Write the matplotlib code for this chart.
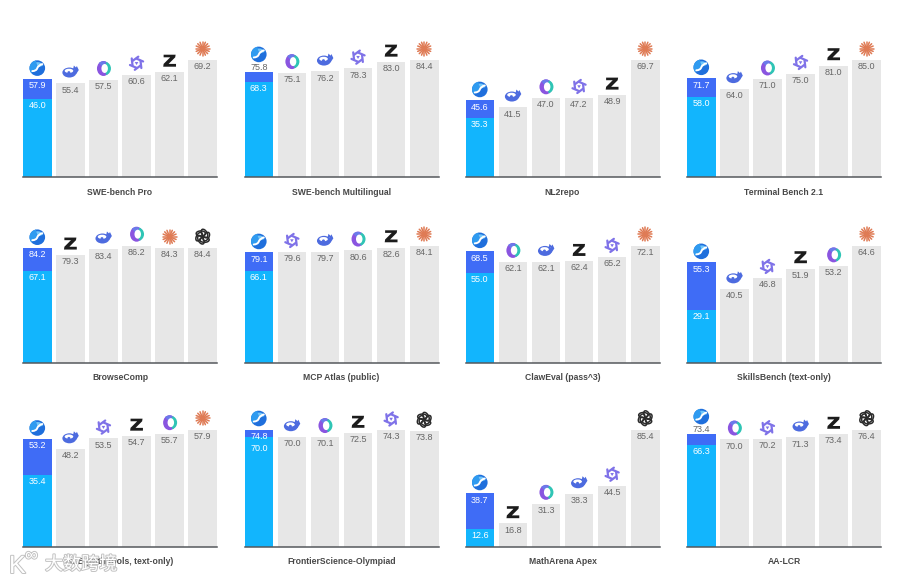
import numpy as np
import matplotlib
matplotlib.use('Agg')
import matplotlib.pyplot as plt
import matplotlib.patheffects as pe
from matplotlib.patches import Circle, Ellipse, Wedge, Polygon, PathPatch
from matplotlib.path import Path
from matplotlib.transforms import Affine2D, ScaledTranslation

plt.rcParams['font.family'] = ['Liberation Sans', 'Noto Sans CJK SC', 'DejaVu Sans']

# Benchmark panels, left to right and top to bottom
titles = ['SWE-bench Pro', 'SWE-bench Multilingual', 'NL2repo', 'Terminal Bench 2.1',
          'BrowseComp', 'MCP Atlas (public)', 'ClawEval (pass^3)', 'SkillsBench (text-only)',
          'HLE (with tools, text-only)', 'FrontierScience-Olympiad', 'MathArena Apex', 'AA-LCR']

# Lead model: full score and the lower score inside the same bar
lead_high = [57.9, 75.8, 45.6, 71.7, 84.2, 79.1, 68.5, 55.3, 53.2, 74.8, 38.7, 73.4]
lead_low = [46.0, 68.3, 35.3, 58.0, 67.1, 66.1, 55.0, 29.1, 35.4, 70.0, 12.6, 66.3]

# Competitors, each panel in its own order
rivals = [
    ['whale', 'ring', 'knot', 'z', 'spark'],
    ['ring', 'whale', 'knot', 'z', 'spark'],
    ['whale', 'ring', 'knot', 'z', 'spark'],
    ['whale', 'ring', 'knot', 'z', 'spark'],
    ['z', 'whale', 'ring', 'spark', 'gpt'],
    ['knot', 'whale', 'ring', 'z', 'spark'],
    ['ring', 'whale', 'z', 'knot', 'spark'],
    ['whale', 'knot', 'z', 'ring', 'spark'],
    ['whale', 'knot', 'z', 'ring', 'spark'],
    ['whale', 'ring', 'z', 'knot', 'gpt'],
    ['z', 'ring', 'whale', 'knot', 'gpt'],
    ['ring', 'knot', 'whale', 'z', 'gpt'],
]
rival_scores = [
    [55.4, 57.5, 60.6, 62.1, 69.2],
    [75.1, 76.2, 78.3, 83.0, 84.4],
    [41.5, 47.0, 47.2, 48.9, 69.7],
    [64.0, 71.0, 75.0, 81.0, 85.0],
    [79.3, 83.4, 86.2, 84.3, 84.4],
    [79.6, 79.7, 80.6, 82.6, 84.1],
    [62.1, 62.1, 62.4, 65.2, 72.1],
    [40.5, 46.8, 51.9, 53.2, 64.6],
    [48.2, 53.5, 54.7, 55.7, 57.9],
    [70.0, 70.1, 72.5, 74.3, 73.8],
    [16.8, 31.3, 38.3, 44.5, 85.4],
    [70.0, 70.2, 71.3, 73.4, 76.4],
]
# These two panels print the lead score above the bar instead of inside it
label_above = ['SWE-bench Multilingual', 'AA-LCR']

FIG_W, FIG_H = 900, 583
col_left = [23, 244.5, 465.5, 687]
row_base = [177, 362.5, 546.5]
panel_w = 194
tallest = 117  # pixel height of the highest bar in every panel

CYAN = '#12b5fd'
BLUE = '#3f6cf6'
GREY = '#e7e7e7'


def px_transform(ax, x, y):
    # local pixel units, origin sitting on a bar top
    return Affine2D() + ScaledTranslation(x, y, ax.transData)


def icon_sphere(ax, tr, cy):
    ax.add_patch(Circle((0, cy), 7.8, fc='#1f6fdc', ec='none', transform=tr, clip_on=False))
    ax.add_patch(Wedge((0, cy), 7.8, 100, 220, fc='#2f9bf0', ec='none', transform=tr, clip_on=False))
    ax.add_patch(Wedge((0.6, cy + 0.6), 5.4, 20, 110, fc='#6fc6fa', ec='none', transform=tr, clip_on=False))
    verts = [(-5, cy - 3), (-1, cy - 3), (0, cy), (1, cy + 3), (5, cy + 4)]
    codes = [Path.MOVETO, Path.CURVE3, Path.CURVE3, Path.CURVE3, Path.CURVE3]
    ax.add_patch(PathPatch(Path(verts, codes), fc='none', ec='white', lw=1.4, transform=tr,
                           clip_on=False, capstyle='round'))


def icon_whale(ax, tr, cy):
    color = '#4d6bdf'
    ax.add_patch(Ellipse((-1, cy - 0.5), 14, 10, fc=color, ec='none', transform=tr, clip_on=False))
    ax.add_patch(Ellipse((-1.4, cy + 1.2), 8.6, 4.2, fc='white', ec='none', transform=tr, clip_on=False))
    ax.add_patch(Ellipse((-1.5, cy - 0.6), 3.0, 3.0, fc=color, ec='none', transform=tr, clip_on=False))
    ax.add_patch(Polygon([(3, cy + 0.5), (6.5, cy + 6), (8.4, cy + 2), (5.5, cy - 2.5)], fc=color, ec='none',
                         transform=tr, clip_on=False))
    ax.add_patch(Polygon([(2.5, cy + 2), (3.5, cy + 6.5), (6.6, cy + 3.5)], fc=color, ec='none',
                         transform=tr, clip_on=False))


def icon_ring(ax, tr, cy):
    ax.add_patch(Ellipse((0, cy), 13, 15, fc='#8a55e0', ec='none', transform=tr, clip_on=False))
    ax.add_patch(Wedge((0.5, cy), 7, -70, 70, fc='#2fc5b5', ec='none', transform=tr, clip_on=False))
    ax.add_patch(Wedge((0, cy), 7.2, 70, 130, fc='#6a7bea', ec='none', transform=tr, clip_on=False))
    ax.add_patch(Ellipse((1.2, cy), 6.5, 9, fc='white', ec='none', transform=tr, clip_on=False))


def icon_knot(ax, tr, cy):
    color = '#7f72e8'
    for ang in np.arange(15, 375, 60):
        rad = np.deg2rad(ang)
        ax.plot([6.8 * np.cos(rad), 4.6 * np.cos(rad + 1.3)],
                [cy + 6.8 * np.sin(rad), cy + 4.6 * np.sin(rad + 1.3)],
                color=color, lw=1.6, transform=tr, clip_on=False, solid_capstyle='round')
    ax.add_patch(Polygon([(-1.8, cy + 1.2), (1.8, cy + 1.2), (0, cy - 1.8)], fc=color, ec='none',
                         transform=tr, clip_on=False))


def icon_z(ax, tr, cy):
    outline = [(-6, cy + 6), (6, cy + 6), (5.6, cy + 3.4), (-1, cy - 3.2), (6.4, cy - 3.2), (6.4, cy - 6),
               (-6.4, cy - 6), (-6, cy - 3.2), (0.6, cy + 3.4), (-6, cy + 3.4)]
    ax.add_patch(Polygon(outline, fc='#1c1c1c', ec='none', transform=tr, clip_on=False))


def icon_spark(ax, tr, cy):
    for ang in np.arange(0, 180, 22.5):
        rad = np.deg2rad(ang)
        dx, dy = 7.0 * np.cos(rad), 7.0 * np.sin(rad)
        ax.plot([-dx, dx], [cy - dy, cy + dy], color='#df7b55', lw=1.1, transform=tr, clip_on=False,
                solid_capstyle='round')
    ax.add_patch(Circle((0, cy), 2.6, fc='#df7b55', ec='none', transform=tr, clip_on=False))


def icon_gpt(ax, tr, cy):
    for ang in np.arange(0, 360, 60):
        rad = np.deg2rad(ang)
        ax.add_patch(Ellipse((3.6 * np.cos(rad), cy + 3.6 * np.sin(rad)), 9.4, 5.2, angle=ang + 60,
                             fc='none', ec='#2b2b2b', lw=1.1, transform=tr, clip_on=False))


icon_draw = {'whale': icon_whale, 'ring': icon_ring, 'knot': icon_knot, 'z': icon_z,
             'spark': icon_spark, 'gpt': icon_gpt, 'sphere': icon_sphere}

fig = plt.figure(figsize=(FIG_W / 100, FIG_H / 100), dpi=100, facecolor='white')

for i, title in enumerate(titles):
    row, col = divmod(i, 4)
    rect = [col_left[col] / FIG_W, 1 - row_base[row] / FIG_H, panel_w / FIG_W, tallest / FIG_H]
    ax = fig.add_axes(rect)
    scores = rival_scores[i]
    top = max(max(scores), lead_high[i])
    width = 0.865
    ax.set_ylim(0, top)
    ax.set_xlim(-width / 2, 5 + width / 2)
    ax.patch.set_alpha(0)
    ax.set_xticks([])
    ax.set_yticks([])
    for side in ['top', 'left', 'right']:
        ax.spines[side].set_visible(False)
    ax.spines['bottom'].set_color('#55585c')
    ax.spines['bottom'].set_linewidth(1.1)

    ax.bar(0, lead_high[i], width, color=BLUE, clip_on=False)
    ax.bar(0, lead_low[i], width, color=CYAN, clip_on=False)
    ax.bar(range(1, 6), scores, width, color=GREY, clip_on=False)

    unit = tallest / top  # pixels per score point
    above = title in label_above
    high_y = lead_high[i] + 4.5 / unit if above else lead_high[i] - 6.7 / unit
    ax.text(0, high_y, f'{lead_high[i]:.1f}', color='#666666' if above else 'white', fontsize=6.5,
            ha='center', va='center')
    # keep the lower label clear of the one above it when the band is thin
    low_y = lead_low[i] - 6.5 / unit
    if not above:
        low_y = min(low_y, high_y - 12 / unit)
    ax.text(0, low_y, f'{lead_low[i]:.1f}', color='white', fontsize=6.5, ha='center', va='center')
    for k, val in enumerate(scores):
        ax.text(k + 1, val - 6.7 / unit, f'{val:.1f}', color='#666666', fontsize=6.5,
                ha='center', va='center')

    icon_sphere(ax, px_transform(ax, 0, lead_high[i]), 17.5 if above else 11)
    for k, (name, val) in enumerate(zip(rivals[i], scores)):
        icon_draw[name](ax, px_transform(ax, k + 1, val), 11.3)

    ax.text(0.5, -15 / tallest, title, transform=ax.transAxes, ha='center', va='center',
            fontsize=6.2, fontweight='bold', color='#484848')

# Corner mark laid over the page
shadow = [pe.withStroke(linewidth=1.4, foreground='#a8a8a8', alpha=0.7)]
fig.text(9 / FIG_W, 1 - 566 / FIG_H, 'K', fontsize=18, color='white', va='center', path_effects=shadow)
fig.text(25 / FIG_W, 1 - 556 / FIG_H, '∞', fontsize=13, color='white', va='center', path_effects=shadow)
fig.text(45 / FIG_W, 1 - 565 / FIG_H, '大数跨境', fontsize=13, color='white', va='center', path_effects=shadow)

fig.savefig('out.png', dpi=100)
